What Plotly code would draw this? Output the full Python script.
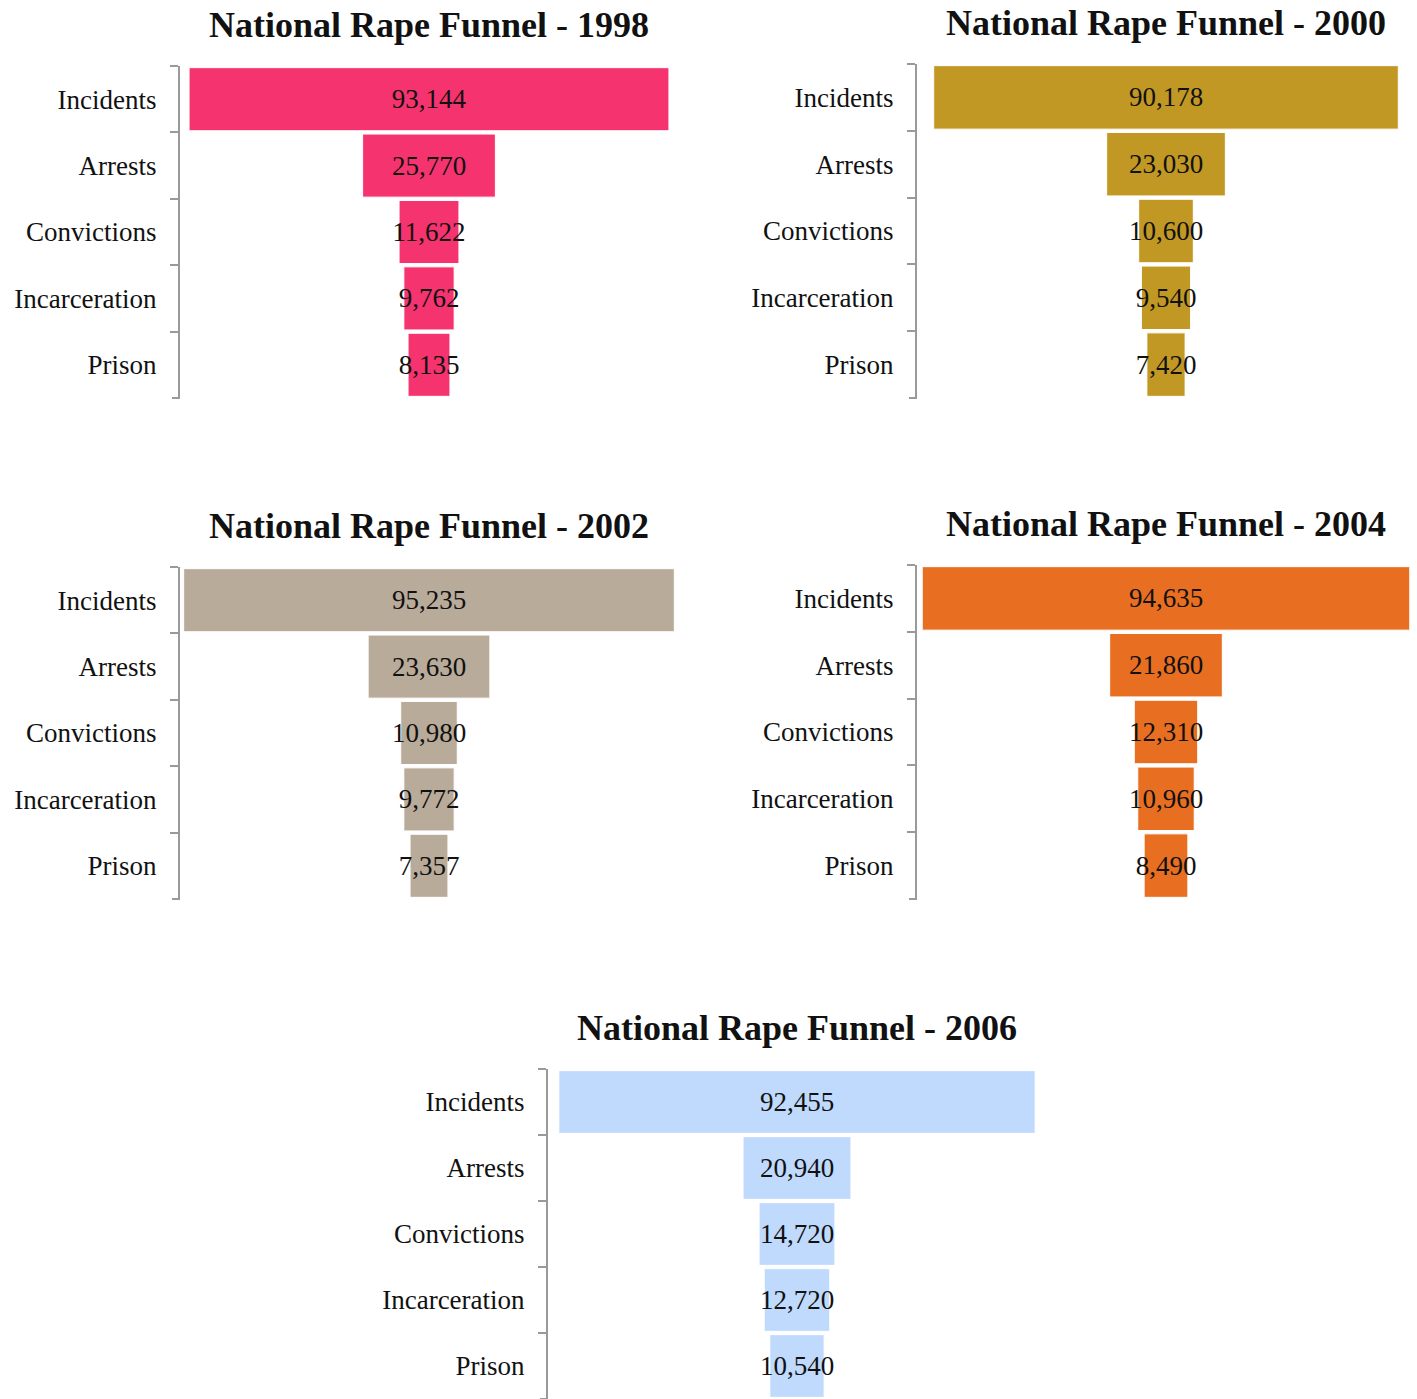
import plotly.graph_objects as go

stages = ["Incidents", "Arrests", "Convictions", "Incarceration", "Prison"]
years = ["1998", "2000", "2002", "2004", "2006"]

values_1998 = [93144, 25770, 11622, 9762, 8135]
values_2000 = [90178, 23030, 10600, 9540, 7420]
values_2002 = [95235, 23630, 10980, 9772, 7357]
values_2004 = [94635, 21860, 12310, 10960, 8490]
values_2006 = [92455, 20940, 14720, 12720, 10540]

colors = ["#F5346F", "#C29824", "#B9AB99", "#E86F21", "#BFDAFD"]

W, H = 1417, 1399
SERIF = "Liberation Serif, Times New Roman, serif"
AXIS_GRAY = "#9a9a9a"
TICK_LEN = 8

# panel boxes in pixels: (left, right, top, bottom)
boxes = [
    (180, 678, 66, 398),
    (917, 1415, 64, 398),
    (180, 678, 567, 899),
    (917, 1415, 565, 899),
    (548, 1046, 1069, 1401),
]
series = [values_1998, values_2000, values_2002, values_2004, values_2006]

half = 48330  # shared x half-range so bar widths are comparable across panels

fig = go.Figure()
for i, (vals, col, (l, r, t, b), yr) in enumerate(zip(series, colors, boxes, years)):
    n = "" if i == 0 else str(i + 1)
    fig.add_trace(go.Funnel(
        y=stages, x=vals,
        xaxis="x" + n, yaxis="y" + n,
        marker=dict(color=col, line=dict(color="white", width=1)),
        connector=dict(visible=False),
        texttemplate="%{x:,}",
        textposition="inside",
        insidetextanchor="middle",
        constraintext="none",
        textangle=0,
        textfont=dict(family=SERIF, size=27, color="#111111"),
        hoverinfo="x+y",
        showlegend=False,
    ))
    xd = [l / W, r / W]
    yd = [max(0, 1 - b / H), 1 - t / H]
    fig.layout["xaxis" + n] = dict(domain=xd, range=[-half, half], visible=False,
                                   anchor="y" + n, fixedrange=True)
    fig.layout["yaxis" + n] = dict(
        domain=yd, anchor="x" + n, type="category", autorange="reversed",
        showline=True, linecolor=AXIS_GRAY, linewidth=2,
        ticks="outside", tickson="boundaries", ticklen=TICK_LEN, tickwidth=2,
        tickcolor=AXIS_GRAY, ticklabelstandoff=16, showgrid=False,
        tickfont=dict(family=SERIF, size=27, color="#111111"),
    )
    # closing tick at the lower end of the category axis
    fig.add_shape(type="line", xref="paper", yref="y" + n + " domain",
                  x0=(l - TICK_LEN) / W, x1=l / W, y0=0, y1=0,
                  line=dict(color=AXIS_GRAY, width=2))
    fig.add_annotation(
        text="<b>National Rape Funnel - " + yr + "</b>",
        x=(l + r) / 2 / W, y=1 - (t - 41) / H, xref="paper", yref="paper",
        xanchor="center", yanchor="middle", showarrow=False,
        font=dict(family=SERIF, size=36, color="#111111"),
    )

fig.update_layout(
    width=W, height=H,
    margin=dict(l=0, r=0, t=0, b=0),
    paper_bgcolor="white", plot_bgcolor="white",
    funnelgap=0.05,
)

fig.write_html("out.html")
